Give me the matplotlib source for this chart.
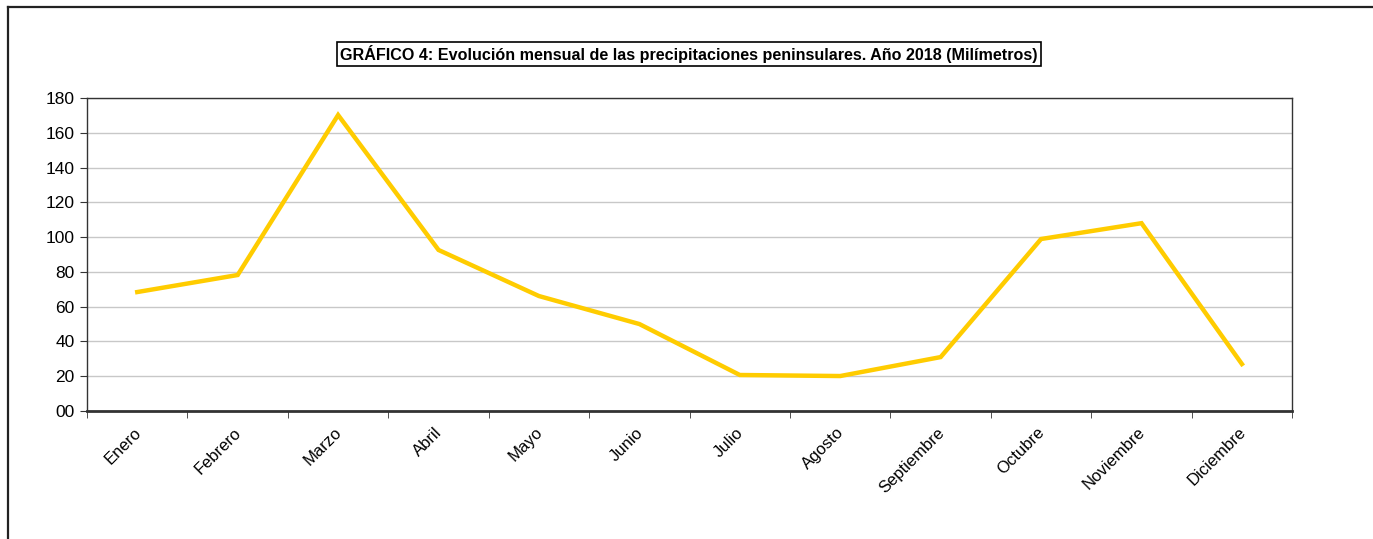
import matplotlib.pyplot as plt
import matplotlib.transforms as mtransforms
import numpy as np
from matplotlib.lines import Line2D

plt.rcParams["font.family"] = ["Liberation Sans", "DejaVu Sans"]

months = ["Enero", "Febrero", "Marzo", "Abril", "Mayo", "Junio", "Julio",
          "Agosto", "Septiembre", "Octubre", "Noviembre", "Diciembre"]
precip = [68.4, 78.2, 170.2, 92.6, 66.1, 50.0, 20.7, 20.1, 31.0, 98.9, 108.0, 27.0]
y_ticks = [0, 20, 40, 60, 80, 100, 120, 140, 160, 180]
y_labels = ["00", "20", "40", "60", "80", "100", "120", "140", "160", "180"]

fig = plt.figure(figsize=(13.73, 5.39), dpi=100)
ax = fig.add_axes([0.0634, 0.2375, 0.8777, 0.5807])

x = np.arange(len(months))
ax.plot(x, precip, color="#FFCC00", linewidth=3.2, solid_joinstyle="miter", zorder=3)

ax.set_xlim(-0.5, len(months) - 0.5)
ax.set_ylim(0, 180)
ax.set_yticks(y_ticks)
ax.set_yticklabels(y_labels, fontsize=12.5)
ax.yaxis.grid(True, color="#C8C8C8", linewidth=1.0)
ax.set_axisbelow(True)

# category labels centred, tick marks on the boundaries
ax.set_xticks(x)
ax.set_xticklabels(months, fontsize=12, rotation=45, ha="right", va="top",
                   rotation_mode="anchor")
ax.tick_params(axis="x", which="major", length=0, pad=10)
shift = mtransforms.ScaledTranslation(-4 / 100, 0, fig.dpi_scale_trans)
for lbl in ax.get_xticklabels():
    lbl.set_transform(lbl.get_transform() + shift)
ax.set_xticks(np.arange(-0.5, len(months)), minor=True)
ax.tick_params(axis="x", which="minor", length=5, color="#333333", direction="out")
ax.tick_params(axis="y", length=5, color="#333333", pad=4)

for side in ["top", "right", "left"]:
    ax.spines[side].set_color("#333333")
    ax.spines[side].set_linewidth(1.0)
ax.spines["bottom"].set_color("#333333")
ax.spines["bottom"].set_linewidth(2.0)

fig.text(0.502, 0.9, "GRÁFICO 4: Evolución mensual de las precipitaciones peninsulares. Año 2018 (Milímetros)",
         fontsize=11.6, fontweight="bold", ha="center", va="center",
         bbox=dict(boxstyle="square,pad=0.2", facecolor="white", edgecolor="black", linewidth=1.2))

# outer chart frame (only top and left edges visible)
fig.add_artist(Line2D([0.0055, 0.0055], [0, 0.987], color="#222222", linewidth=1.6))
fig.add_artist(Line2D([0.0055, 1.0], [0.987, 0.987], color="#222222", linewidth=1.6))

fig.savefig("out.png", dpi=100)
